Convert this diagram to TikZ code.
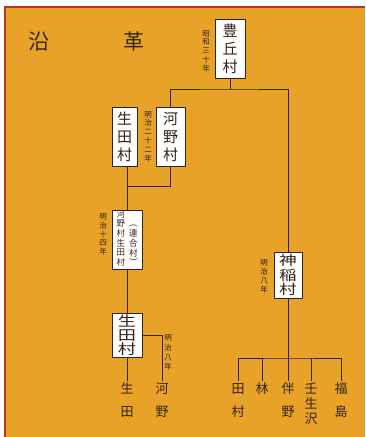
\documentclass[tikz,border=0pt]{standalone}
\usepackage{fontspec}
\setmainfont{Noto Sans CJK JP}
\newfontfamily\yokonaga[FakeStretch=1.3]{Noto Sans CJK JP}
\usepackage{tikz}
\pgfdeclarelayer{bg}
\pgfsetlayers{bg,main}
\definecolor{daidai}{RGB}{233,162,40}
\definecolor{sumi}{RGB}{50,36,20}
\definecolor{fuchi}{RGB}{185,55,30}

\begin{document}
\begin{tikzpicture}[x=1pt,y=-1pt,
        mura/.style={draw=sumi, fill=white, line width=0.9pt, text=sumi, inner sep=0pt, align=center, font=\fontsize{15}{18}\selectfont},
        nen/.style={text=sumi, inner sep=0pt, align=center, font=\fontsize{7.5}{8.8}\selectfont},
        chimei/.style={text=sumi, inner sep=0pt, outer sep=2pt, anchor=north, align=center, font=\fontsize{13}{23}\selectfont},
        sen/.style={draw=sumi, line width=0.9pt}]
        \useasboundingbox (0,0) rectangle (365,437);

        \node (enA) [text=sumi, font=\fontsize{21}{21}\selectfont] at (39,42) {沿};
        \node (enB) [text=sumi, font=\fontsize{21}{21}\selectfont] at (134,42) {革};

        \node (toyooka) [mura, minimum width=30, minimum height=59] at (230,48.5) {豊\\丘\\村};
        \node (s30) [nen] at (206,51) {昭\\和\\三\\十\\年};
        \node (ikuta) [mura, minimum width=25, minimum height=59] at (124.5,136.5) {生\\田\\村};
        \node (kono) [mura, minimum width=29, minimum height=59] at (170.5,136.5) {河\\野\\村};
        \node (m22) [nen] at (148,136.5) {明\\治\\二\\十\\二\\年};
        \node (rengo) [mura, minimum width=30, minimum height=59, font=\fontsize{8.5}{9.2}\selectfont] at (127,239.5)
{\begin{tabular}[b]{@{}c@{}}河\\野\\村\\生\\田\\村\end{tabular}\hspace{4pt}\begin{tabular}[b]{@{}c@{}}︵\\連\\合\\村\\︶\end{tabular}};
        \node (m14) [nen] at (103,234.5) {明\\治\\十\\四\\年};
        \node (ikuta2) [mura, minimum width=30, minimum height=44, font=\yokonaga\fontsize{14}{14.3}\selectfont] at (127,335) {生\\田\\村};
        \node (m8a) [nen, font=\fontsize{7.5}{9.8}\selectfont] at (168,352.5) {明\\治\\八\\年};
        \node (kamiina) [mura, minimum width=28, minimum height=46, font=\yokonaga\fontsize{13.5}{14.5}\selectfont] at (288,275) {神\\稲\\村};
        \node (m8b) [nen] at (264,276.5) {明\\治\\八\\年};

        \node (ikutaA) [chimei] at (127,381) {生\\田};
        \node (konoA) [chimei] at (162,381) {河\\野};
        \node (tamura) [chimei] at (238,381) {田\\村};
        \node (hayashi) [chimei] at (262,381) {林};
        \node (tomono) [chimei] at (288,381) {伴\\野};
        \node (mibusawa) [chimei, font=\fontsize{13}{15}\selectfont] at (311,381) {壬\\生\\沢};
        \node (fukushima) [chimei] at (341,381) {福\\島};

        \coordinate (j0) at (230,89);
        \coordinate (j1) at (127,186);
        \coordinate (j2) at (288,358);
        \begin{pgfonlayer}{bg}
                \fill[white] (0,0) rectangle (365,437);
                \fill[daidai] (5,7) rectangle (365,437);
                \draw[fuchi, line width=1.2pt] (5,437) -- (5,7) -- (365,7);
                \draw[sen] (toyooka.south) -- (j0);
                \draw[sen] (kono.north) |- (j0) -| (kamiina.north);
                \draw[sen] (ikuta.south -| j1) -- (rengo.north);
                \draw[sen] (kono.south) |- (j1);
                \draw[sen] (rengo.south) -- (ikuta2.north);
                \draw[sen] (ikuta2.south) -- (ikutaA.north);
                \draw[sen] (ikuta2.east) -| (konoA.north);
                \draw[sen] (kamiina.south) -- (tomono.north);
                \draw[sen] (tamura.north) |- (j2) -| (fukushima.north);
                \draw[sen] (hayashi.north) -- (hayashi.north |- j2);
                \draw[sen] (mibusawa.north) -- (mibusawa.north |- j2);
        \end{pgfonlayer}
\end{tikzpicture}
\end{document}
